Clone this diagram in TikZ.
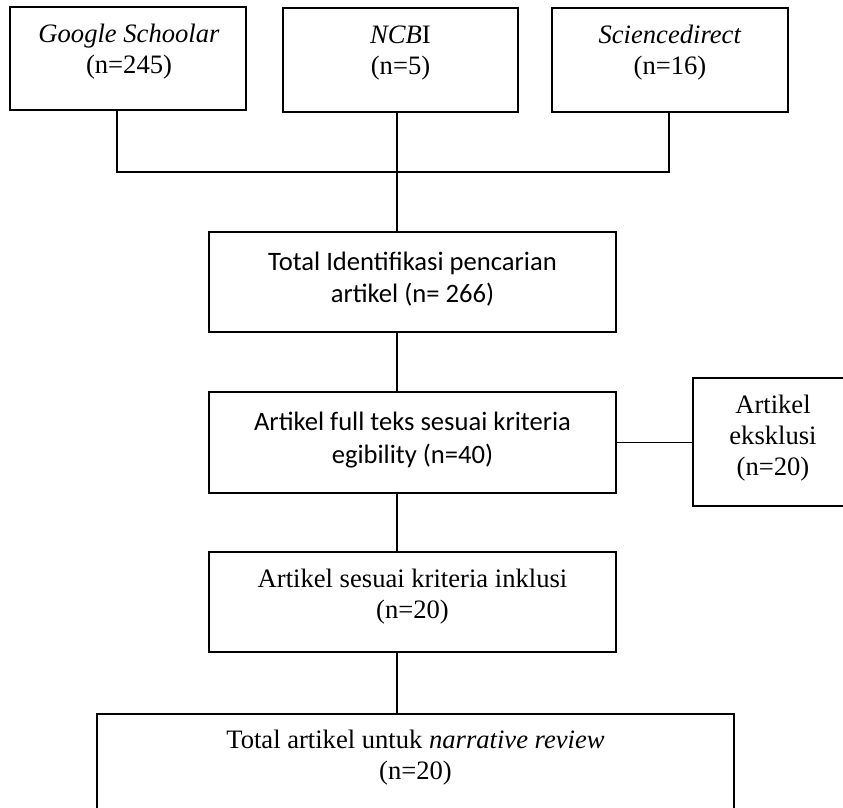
\documentclass[tikz,border=0pt]{standalone}
\usepackage{fontspec}
\setmainfont{Liberation Serif}
\newfontfamily\calibri{Carlito}
\tikzset{
  box/.style={draw, line width=1.3pt, minimum width=#1, inner sep=0pt},
  txt/.style={inner sep=0pt, align=center, font=\fontsize{26.6}{31}\selectfont},
  ctxt/.style={inner sep=0pt, align=center, font=\calibri\fontsize{26.6}{32.5}\selectfont},
  link/.style={line width=1.3pt}
}
\begin{document}
\begin{tikzpicture}[x=1pt,y=-1pt]
\path[use as bounding box, clip] (0,0) rectangle (843,808);
% boxes
\node[box=236pt, minimum height=103pt] (g) at (128,58.5) {};
\node[box=235pt, minimum height=104pt] (n) at (400.5,60) {};
\node[box=236pt, minimum height=104pt] (s) at (670,60) {};
\node[box=407pt, minimum height=100pt] (t) at (412.5,282) {};
\node[box=407pt, minimum height=101pt] (f) at (412.5,442.5) {};
\node[box=160pt, minimum height=128pt] (e) at (773,442) {};
\node[box=407pt, minimum height=100pt] (i) at (412.5,602) {};
\node[box=637pt, minimum height=116pt] (r) at (415.5,772) {};
% texts
\node[txt] (gt) at (129,52) {\textit{Google Schoolar}\\(n=245)};
\node[txt] (nt) at (400.5,53) {\textit{NCB}I\\(n=5)};
\node[txt] (st) at (670,53) {\textit{Sciencedirect}\\(n=16)};
\node[ctxt] (tt) at (412.5,279) {Total Identifikasi pencarian\\artikel (n= 266)};
\node[ctxt] (ft) at (412.5,440) {Artikel full teks sesuai kriteria\\egibility (n=40)};
\node[txt] (et) at (773,438) {Artikel\\eksklusi\\(n=20)};
\node[txt] (it) at (412.5,597) {Artikel sesuai kriteria inklusi\\(n=20)};
\node[txt] (rt) at (415.5,758) {Total artikel untuk \textit{narrative review}\\(n=20)};
% connectors
\coordinate (gj) at (117,172);
\coordinate (sj) at (669,172);
\coordinate (mx) at (397,0);
\draw[link] (g.south -| gj) -- (gj) -- (sj) -- (s.south -| sj);
\draw[link] (n.south -| mx) -- (t.north -| mx);
\draw[link] (t.south -| mx) -- (f.north -| mx);
\draw[link] (f.east) -- (f.east -| e.west);
\draw[link] (f.south -| mx) -- (i.north -| mx);
\draw[link] (i.south -| mx) -- (r.north -| mx);
\end{tikzpicture}
\end{document}
